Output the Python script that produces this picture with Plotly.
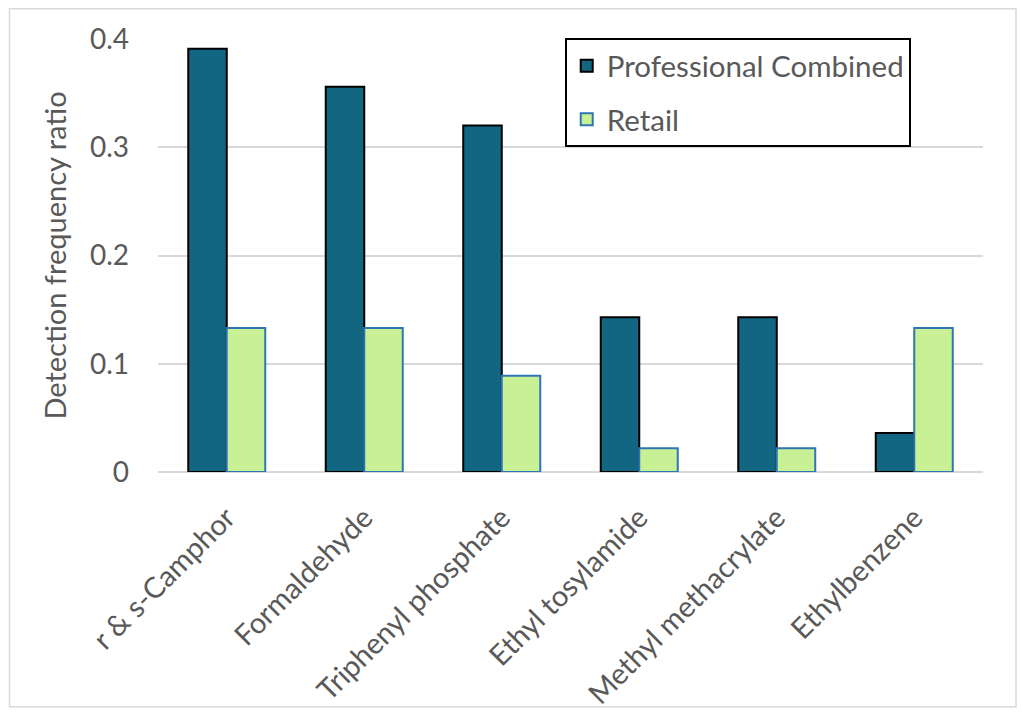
import plotly.graph_objects as go

categories = ["r & s-Camphor", "Formaldehyde", "Triphenyl phosphate",
              "Ethyl tosylamide", "Methyl methacrylate", "Ethylbenzene"]
professional = [0.391, 0.356, 0.320, 0.143, 0.143, 0.036]
retail = [0.133, 0.133, 0.089, 0.022, 0.022, 0.133]
y_ticks = [0, 0.1, 0.2, 0.3, 0.4]
y_tick_labels = ["0", "0.1", "0.2", "0.3", "0.4"]

FONT = "Lato, Open Sans, sans-serif"
GREY = "#595959"

fig = go.Figure()
fig.add_trace(go.Bar(
    name="Professional Combined", x=categories, y=professional,
    marker=dict(color="#136682", line=dict(color="black", width=2)),
    legendgroup="a",
))
fig.add_trace(go.Bar(
    name="Retail", x=categories, y=retail,
    marker=dict(color="#c8f094", line=dict(color="#2e75b6", width=2)),
    legendgroup="b",
))

fig.update_layout(
    width=1022, height=715,
    margin=dict(l=158, r=39, t=39, b=243),
    paper_bgcolor="white", plot_bgcolor="white",
    barmode="group", bargap=0.44, bargroupgap=0,
    font=dict(family=FONT, color=GREY, size=28),
    showlegend=True,
    legend=dict(
        x=0.493, y=1.002, xanchor="left", yanchor="top",
        bordercolor="black", borderwidth=2, bgcolor="white",
        font=dict(size=29.5, color=GREY, family=FONT),
        tracegroupgap=12,
    ),
    xaxis=dict(
        tickangle=-45, tickfont=dict(size=29, color=GREY),
        showline=False, showgrid=False, ticks="",
        ticklabelstandoff=22, automargin=False,
    ),
    yaxis=dict(
        range=[0, 0.4], tickvals=y_ticks, ticktext=y_tick_labels,
        showgrid=True, gridcolor="#d9d9d9", gridwidth=2,
        zeroline=True, zerolinecolor="#d9d9d9", zerolinewidth=2,
        tickfont=dict(size=28, color=GREY), ticks="", ticklen=0,
        ticklabelstandoff=28, automargin=False,
        title=dict(text="Detection frequency ratio", font=dict(size=29, color=GREY), standoff=14),
    ),
    shapes=[dict(type="rect", xref="paper", yref="paper",
                 x0=-0.18, x1=1.04, y0=-0.542, y1=1.07,
                 line=dict(color="#d9d9d9", width=1.5), layer="below")],
)

fig.write_html("out.html", config={"displayModeBar": False})

with open("out.html", "r", encoding="utf-8") as f:
    html = f.read()
html = html.replace("<body>", '<body style="margin:0;padding:0;overflow:hidden">', 1)
with open("out.html", "w", encoding="utf-8") as f:
    f.write(html)
